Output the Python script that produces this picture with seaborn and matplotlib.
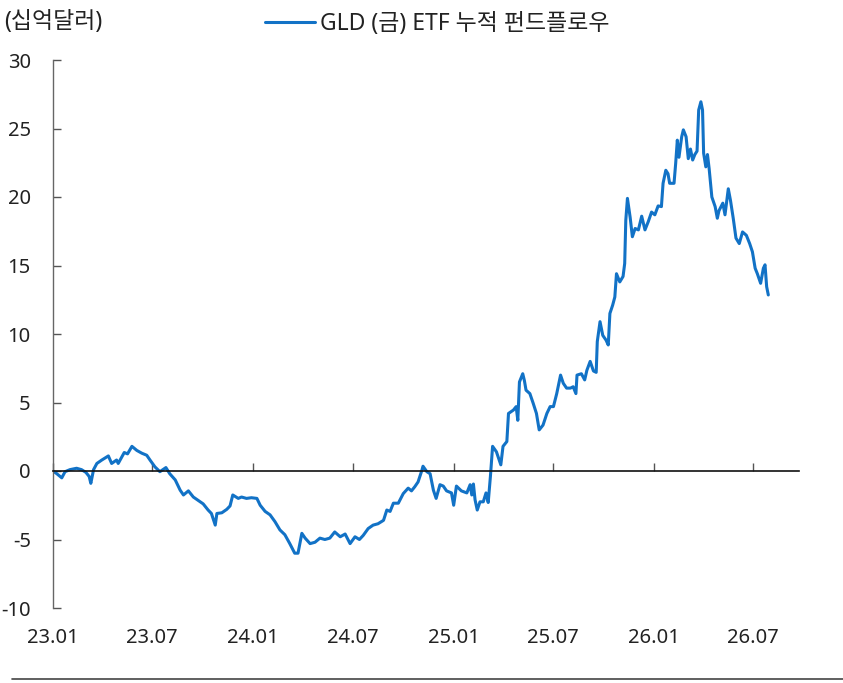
import matplotlib
matplotlib.use('Agg')
import matplotlib.pyplot as plt
import matplotlib.dates as mdates
from matplotlib.lines import Line2D
import seaborn as sns
import numpy as np
import pandas as pd

# days since 2023-01-01 and cumulative fund flow (USD bn)
days = [0, 7, 16, 22, 31, 43, 52, 60, 66, 69, 74, 80, 89, 101, 107, 116, 119, 130, 136, 144,
        153, 162, 171, 177, 186, 195, 206, 213, 223, 232, 238, 247, 256, 265, 274, 283, 289, 296, 299, 308,
        317, 323, 328, 338, 344, 353, 362, 372, 378, 387, 396, 405, 414, 423, 432, 441, 447, 454, 460, 469,
        478, 487, 496, 505, 514, 524, 533, 542, 551, 559, 566, 575, 584, 593, 603, 609, 615, 621, 630, 639,
        648, 654, 660, 666, 673, 675, 682, 688, 694, 699, 706, 712, 718, 727, 731, 736, 745, 755, 761, 764,
        767, 770, 774, 779, 785, 790, 794, 798, 802, 809, 817, 821, 828, 831, 840, 845, 848, 851, 857, 860,
        863, 870, 876, 882, 887, 894, 901, 907, 913, 919, 926, 931, 937, 944, 949, 954, 956, 964, 970, 974,
        980, 986, 991, 993, 998, 1003, 1009, 1013, 1016, 1021, 1025, 1028, 1034, 1040, 1043, 1045, 1048, 1053, 1057, 1062,
        1068, 1074, 1080, 1086, 1092, 1098, 1104, 1110, 1113, 1118, 1122, 1125, 1133, 1136, 1139, 1142, 1147, 1150, 1155, 1159,
        1163, 1167, 1171, 1175, 1178, 1182, 1185, 1187, 1191, 1194, 1197, 1202, 1208, 1212, 1215, 1222, 1226, 1232, 1236, 1241,
        1246, 1252, 1258, 1265, 1271, 1276, 1281, 1285, 1291, 1296, 1299, 1302, 1305]
flow = [0, -0.2, -0.5, -0.05, 0.1, 0.2, 0.1, -0.1, -0.4, -0.9, 0.1, 0.55, 0.8, 1.1, 0.55, 0.8, 0.55, 1.35, 1.25, 1.8,
        1.5, 1.3, 1.15, 0.8, 0.3, -0.05, 0.25, -0.2, -0.65, -1.4, -1.75, -1.45, -1.9, -2.15, -2.4, -2.85, -3.1, -3.95, -3.1, -3.05,
        -2.8, -2.55, -1.75, -2.0, -1.9, -2.0, -1.95, -2.0, -2.5, -2.95, -3.2, -3.7, -4.3, -4.65, -5.3, -6.0, -6.0, -4.55, -4.9, -5.3,
        -5.2, -4.9, -5.0, -4.9, -4.45, -4.8, -4.6, -5.3, -4.8, -5.0, -4.7, -4.2, -3.95, -3.85, -3.6, -2.85, -2.95, -2.35, -2.35, -1.65,
        -1.25, -1.45, -1.15, -0.8, 0.05, 0.35, -0.05, -0.2, -1.4, -2.0, -1.0, -1.1, -1.45, -1.6, -2.5, -1.1, -1.45, -1.6, -1.0, -1.75,
        -0.95, -2.1, -2.85, -2.25, -2.25, -1.6, -2.3, -0.4, 1.8, 1.4, 0.45, 1.8, 2.15, 4.2, 4.45, 4.7, 3.7, 6.5, 7.1, 6.6,
        5.9, 5.65, 4.95, 4.2, 3.0, 3.35, 4.2, 4.7, 4.7, 5.65, 7.0, 6.4, 6.05, 6.05, 6.15, 5.65, 7.0, 7.1, 6.65, 7.35,
        8.0, 7.3, 7.2, 9.45, 10.9, 9.9, 9.55, 9.2, 11.5, 12.1, 12.7, 14.4, 13.8, 14.2, 15.15, 18.3, 19.9, 18.5, 17.1, 17.7,
        17.6, 18.6, 17.6, 18.2, 18.9, 18.7, 19.35, 19.3, 21.0, 21.95, 21.7, 21.0, 21.0, 22.45, 24.15, 22.9, 24.4, 24.9, 24.4, 22.8,
        23.5, 22.7, 23.1, 23.35, 26.35, 26.95, 26.35, 23.2, 22.2, 23.1, 22.1, 20.0, 19.3, 18.45, 19.0, 19.55, 18.7, 20.6, 19.75, 18.45,
        17.0, 16.6, 17.45, 17.2, 16.6, 16.0, 14.8, 14.4, 13.7, 14.8, 15.05, 13.45, 12.85]

tick_dates = ['2023-01-01', '2023-07-01', '2024-01-01', '2024-07-01',
              '2025-01-01', '2025-07-01', '2026-01-01', '2026-07-01']
y_ticks = [-10, -5, 0, 5, 10, 15, 20, 25, 30]
series_name = 'GLD (금) ETF 누적 펀드플로우'
unit_label = '(십억달러)'

df = pd.DataFrame({
    'date': pd.Timestamp('2023-01-01') + pd.to_timedelta(days, unit='D'),
    'flow': flow,
})

sns.set_style('white')
plt.rcParams['font.family'] = ['Noto Sans', 'Noto Sans CJK KR', 'DejaVu Sans']
fs = 14.5        # tick labels
fs_text = 16.5   # legend / unit label
line_color = '#1272C6'
text_color = '#222222'

fig = plt.figure(figsize=(8.43, 6.83), dpi=100)
ax = fig.add_axes([53 / 843, 1 - 608 / 683, (799 - 53) / 843, (608 - 60) / 683])

sns.lineplot(data=df, x='date', y='flow', ax=ax, color=line_color, lw=2.2,
             label=series_name, legend=False)

ax.set_ylim(-10, 30)
ax.set_xlim(pd.Timestamp('2023-01-01'), pd.Timestamp('2026-09-23'))
ax.set_yticks(y_ticks)
ax.set_yticklabels([str(t) for t in y_ticks], fontsize=fs, color=text_color)
ax.set_xticks(pd.to_datetime(tick_dates))
ax.xaxis.set_major_formatter(mdates.DateFormatter('%y.%m'))
ax.set_xlabel('')
ax.set_ylabel('')

# x axis sits on the zero line, labels stay at the bottom
for s in ['top', 'right']:
    ax.spines[s].set_visible(False)
ax.spines['bottom'].set_position(('data', 0))
ax.spines['bottom'].set_color('#111111')
ax.spines['bottom'].set_linewidth(1.2)
ax.spines['left'].set_color('#666666')
ax.spines['left'].set_linewidth(1.0)
ax.tick_params(axis='x', direction='in', length=6, width=1, color='#555555',
               pad=113, labelsize=fs, labelcolor=text_color, bottom=True)
ax.tick_params(axis='y', direction='in', length=6, width=1, color='#555555',
               pad=16, left=True)

handles = [Line2D([], [], color=line_color, lw=2.2)]
fig.legend(handles, [series_name], loc='center', bbox_to_anchor=(437 / 843, 1 - 24 / 683),
           frameon=False, fontsize=fs_text, handlelength=2.2, handletextpad=0.18,
           labelcolor=text_color)
fig.text(4 / 843, 1 - 22 / 683, unit_label, fontsize=fs_text, color=text_color,
         ha='left', va='center')

# thin rule along the bottom
fig.add_artist(Line2D([12 / 843, 1], [1 - 679 / 683] * 2, color='#444444', lw=1.2))

fig.savefig('out.png', dpi=100)
